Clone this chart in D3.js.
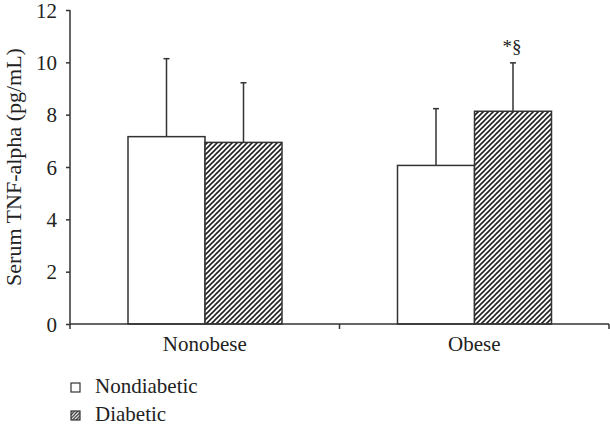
<!DOCTYPE html>
<html>
<head>
<meta charset="utf-8">
<script src="https://cdn.jsdelivr.net/npm/d3@7"></script>
<style>
  html, body { margin: 0; padding: 0; background: #fff; }
  svg { display: block; }
  text { font-family: "Liberation Serif", "DejaVu Serif", serif; fill: #222; }
</style>
</head>
<body>
<svg id="chart" width="610" height="425"></svg>
<script>
const categories = ["Nonobese", "Obese"];
const series = ["Nondiabetic", "Diabetic"];
const means = {
  Nondiabetic: [7.16, 6.06],
  Diabetic: [6.94, 8.13]
};
const errorsUpper = {
  Nondiabetic: [10.14, 8.23],
  Diabetic: [9.22, 9.98]
};
const yTicks = [0, 2, 4, 6, 8, 10, 12];
const annotations = [{ category: "Obese", series: "Diabetic", text: "*§" }];

const svg = d3.select("#chart");
const axisColor = "#333";
const fontSize = 21;

const defs = svg.append("defs");
function hatch(id, s, w) {
  const p = defs.append("pattern").attr("id", id)
    .attr("patternUnits", "userSpaceOnUse").attr("width", s).attr("height", s);
  p.append("rect").attr("width", s).attr("height", s).attr("fill", "#fff");
  p.append("path")
    .attr("d", `M0,${s} L${s},0 M${-s/2},${s/2} L${s/2},${-s/2} M${s/2},${s*1.5} L${s*1.5},${s/2}`)
    .attr("stroke", "#222").attr("stroke-width", w);
}
hatch("hatch", 5, 1.6);
hatch("hatchSmall", 3.4, 1.2);

const x0 = d3.scaleBand().domain(categories).range([70, 609]).padding(0);
const x1 = d3.scaleBand().domain(series).range([58, 212]).padding(0);
const y = d3.scaleLinear().domain([0, 12]).range([324, 10]);

const fills = { Nondiabetic: "#fff", Diabetic: "url(#hatch)" };

// bars
const g = svg.append("g");
categories.forEach((c, i) => {
  series.forEach(s => {
    const bx = x0(c) + x1(s);
    const cx = bx + x1.bandwidth() / 2;
    g.append("line")
      .attr("x1", cx).attr("x2", cx)
      .attr("y1", y(means[s][i])).attr("y2", y(errorsUpper[s][i]))
      .attr("stroke", axisColor).attr("stroke-width", 1.5);
    g.append("line")
      .attr("x1", cx - 3).attr("x2", cx + 3)
      .attr("y1", y(errorsUpper[s][i])).attr("y2", y(errorsUpper[s][i]))
      .attr("stroke", axisColor).attr("stroke-width", 1.5);
    g.append("rect")
      .attr("x", bx).attr("y", y(means[s][i]))
      .attr("width", x1.bandwidth()).attr("height", y(0) - y(means[s][i]))
      .attr("fill", fills[s]).attr("stroke", axisColor).attr("stroke-width", 1.5);
  });
});

// annotations
annotations.forEach(a => {
  const i = categories.indexOf(a.category);
  const cx = x0(a.category) + x1(a.series) + x1.bandwidth() / 2;
  svg.append("text").attr("x", cx - 1).attr("y", y(errorsUpper[a.series][i]) - 10)
    .attr("text-anchor", "middle").style("font-size", "19px").text(a.text);
});

// y axis
const yAxis = svg.append("g").attr("transform", "translate(70,0)")
  .call(d3.axisLeft(y).tickValues(yTicks).tickSize(4).tickPadding(9).tickFormat(d3.format("d")));
yAxis.attr("font-size", null).attr("font-family", null);
yAxis.selectAll("path, line").attr("stroke", axisColor).attr("stroke-width", 1.5);
yAxis.select(".domain").attr("d", `M0,${y(12)}V${y(0)}`);
yAxis.selectAll("text").style("font-size", fontSize + "px").attr("dy", "0.34em").attr("fill", "#222");

// x axis
const xAxis = svg.append("g").attr("transform", `translate(0,${y(0)})`)
  .call(d3.axisBottom(x0).tickSize(0));
xAxis.attr("font-size", null).attr("font-family", null);
xAxis.select(".domain").attr("d", `M70,0H609`).attr("stroke", axisColor).attr("stroke-width", 1.5);
xAxis.selectAll("text").style("font-size", fontSize + "px").attr("y", 27).attr("dy", null).attr("fill", "#222");
const bounds = [x0.range()[0], ...categories.slice(1).map(c => x0(c)), x0.range()[1]];
xAxis.selectAll(".bound").data(bounds).enter().append("line")
  .attr("x1", d => d).attr("x2", d => d).attr("y1", 0).attr("y2", 5)
  .attr("stroke", axisColor).attr("stroke-width", 1.5);

// y label
svg.append("text")
  .attr("transform", `translate(21,${(y(0) + y(12)) / 2}) rotate(-90)`)
  .attr("text-anchor", "middle").style("font-size", "22px")
  .text("Serum TNF-alpha (pg/mL)");

// legend
const leg = svg.append("g").attr("transform", "translate(71,0)");
const legY = [387, 415];
series.forEach((s, i) => {
  leg.append("rect").attr("x", 0).attr("y", legY[i] - 4).attr("width", 9).attr("height", 9)
    .attr("fill", s === "Diabetic" ? "url(#hatchSmall)" : "#fff")
    .attr("stroke", axisColor).attr("stroke-width", 1.2);
  leg.append("text").attr("x", 24).attr("y", legY[i] + 6).style("font-size", fontSize + "px").text(s);
});
</script>
</body>
</html>
